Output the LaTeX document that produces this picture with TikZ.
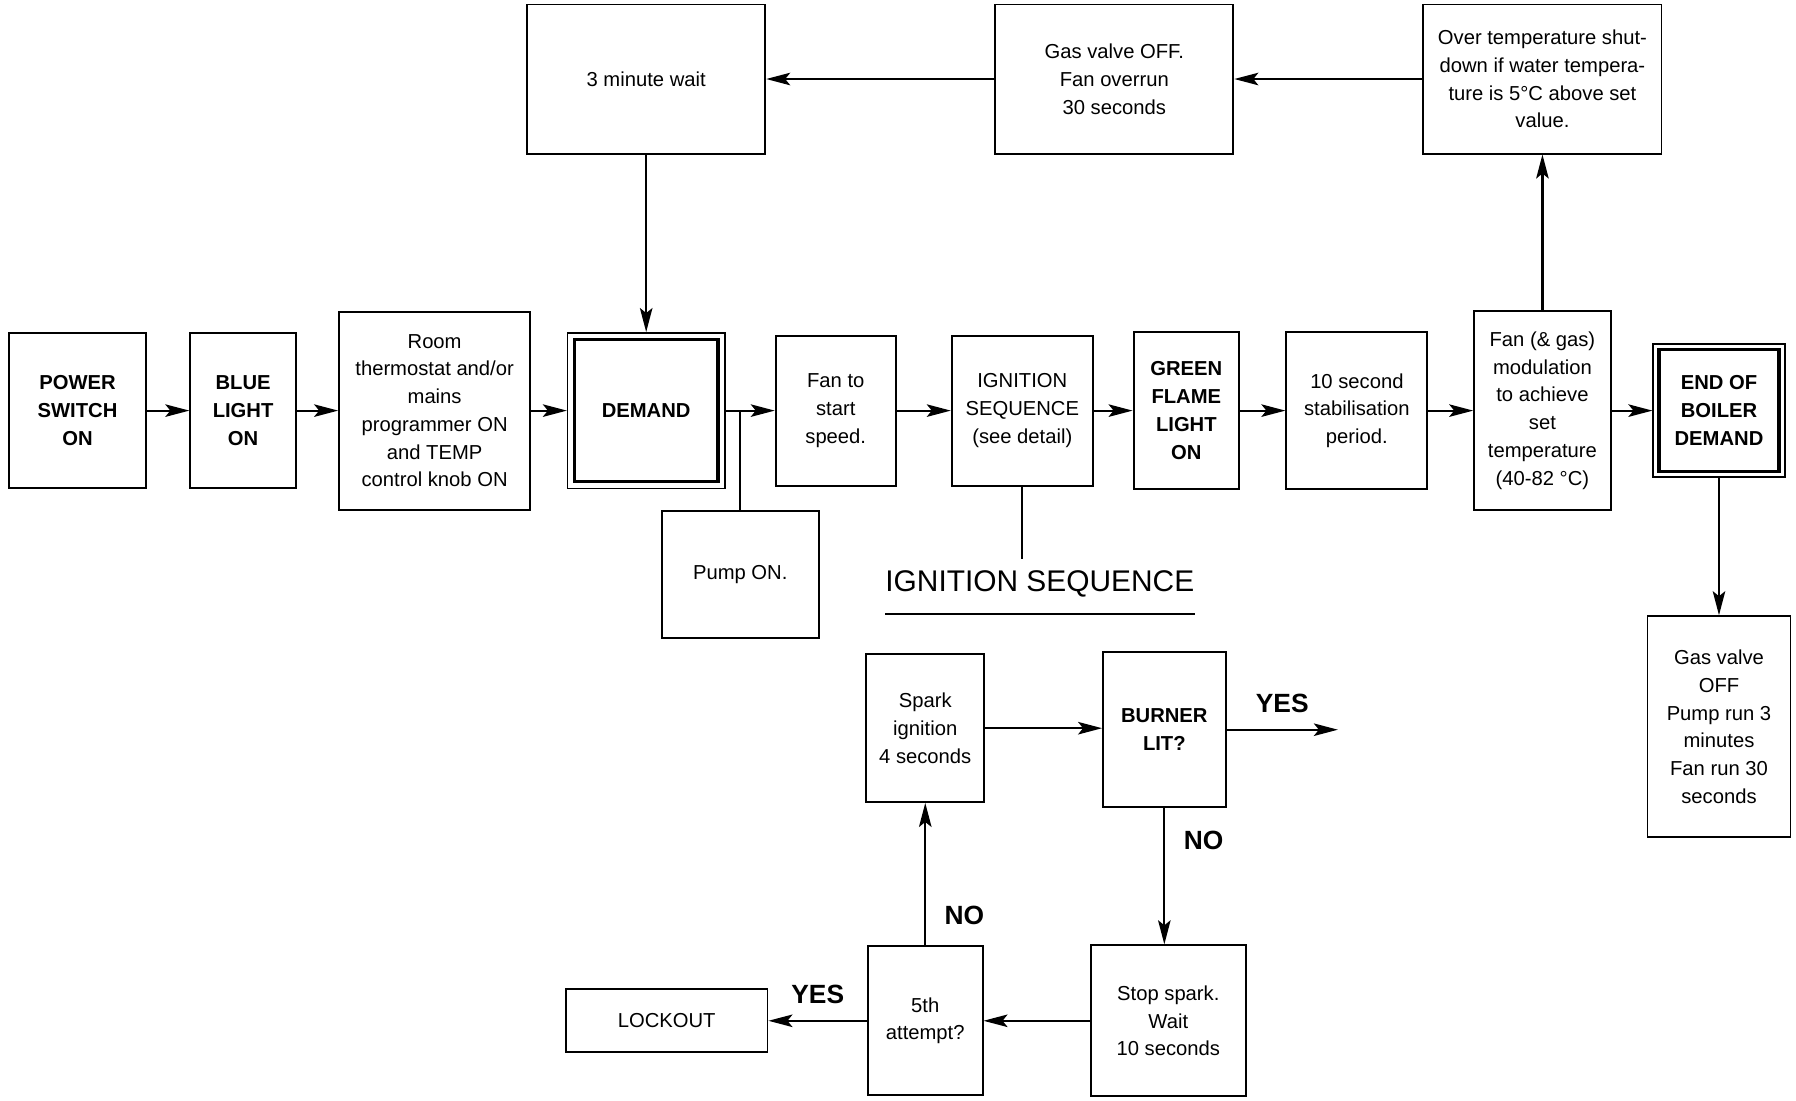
\documentclass[tikz,border=0pt]{standalone}
\usepackage{fontspec}
\setmainfont{Liberation Sans}
\usepackage{tikz}
\usetikzlibrary{arrows.meta,positioning,calc}

\begin{document}
\begin{tikzpicture}[
  box/.style={draw,line width=1.1pt,align=center,inner sep=2pt,
              font=\fontsize{11.5}{15.8}\selectfont},
  bbox/.style={box,font=\fontsize{11.5}{15.8}\selectfont\bfseries},
  arr/.style={-{Stealth[length=4.8mm,width=2.5mm,inset=1mm]},line width=1.2pt},
  link/.style={line width=1pt},
  answer/.style={font=\fontsize{15}{18}\selectfont\bfseries},
]
\useasboundingbox (0,0) rectangle (35.91,22.01);
% main row
\node[bbox,minimum width=2.73cm,minimum height=3.11cm] (power) at (1.55,13.8)
  {POWER\\SWITCH\\ON};
\node[bbox,minimum width=2.11cm,minimum height=3.11cm] (blue) at (4.86,13.8)
  {BLUE\\LIGHT\\ON};
\node[box,minimum width=3.82cm,minimum height=3.96cm] (room) at (8.69,13.8)
  {Room\\thermostat and/or\\mains\\programmer ON\\and TEMP\\control knob ON};
\node[bbox,line width=0.9pt,minimum width=3.14cm,minimum height=3.11cm] (demand) at (12.92,13.8)
  {DEMAND};
\node[box,minimum width=2.40cm,minimum height=3.0cm] (fan) at (16.71,13.8)
  {Fan to\\start\\speed.};
\node[box,minimum width=2.82cm,minimum height=3.0cm] (ign) at (20.44,13.8)
  {IGNITION\\SEQUENCE\\(see detail)};
\node[bbox,minimum width=2.11cm,minimum height=3.14cm] (green) at (23.72,13.8)
  {GREEN\\FLAME\\LIGHT\\ON};
\node[box,minimum width=2.82cm,minimum height=3.14cm] (stab) at (27.13,13.8)
  {10 second\\stabilisation\\period.};
\node[box,minimum width=2.73cm,minimum height=3.99cm] (modul) at (30.84,13.8)
  {Fan (\& gas)\\modulation\\to achieve\\set\\temperature\\(40-82 °C)};
\node[bbox,line width=0.9pt,minimum width=2.63cm,minimum height=2.66cm] (endd) at (34.37,13.8)
  {END OF\\BOILER\\DEMAND};
\node[box,minimum width=3.14cm,minimum height=2.54cm] (pump) at (14.80,10.52)
  {Pump ON.};
\node[box,minimum width=2.86cm,minimum height=4.42cm] (gasoff) at (34.37,7.48)
  {Gas valve\\OFF\\Pump run 3\\minutes\\Fan run 30\\seconds};
% inner frames of the double boxes
\draw[line width=1.8pt] ([shift={(0.15,0.15)}]demand.south west) rectangle ([shift={(-0.15,-0.15)}]demand.north east);
\draw[line width=1.8pt] ([shift={(0.13,0.13)}]endd.south west) rectangle ([shift={(-0.13,-0.13)}]endd.north east);
% top row
\node[box,minimum width=4.76cm,minimum height=2.98cm] (wait) at (12.92,20.43)
  {3 minute wait};
\node[box,minimum width=4.76cm,minimum height=2.98cm] (overrun) at (22.28,20.43)
  {Gas valve OFF.\\Fan overrun\\30 seconds};
\node[box,minimum width=4.76cm,minimum height=2.98cm] (overtemp) at (30.84,20.43)
  {Over temperature shut-\\down if water tempera-\\ture is 5°C above set\\value.};
% ignition detail
\node[inner sep=0pt,font=\fontsize{17}{20}\selectfont] (igntitle) at (20.79,10.33)
  {IGNITION SEQUENCE};
\coordinate (ignlink) at (20.44,10.83);
\node[box,minimum width=2.36cm,minimum height=2.95cm] (spark) at (18.50,7.45)
  {Spark\\ignition\\4 seconds};
\node[bbox,minimum width=2.45cm,minimum height=3.09cm] (burner) at (23.28,7.42)
  {BURNER\\LIT?};
\coordinate (yesend) at (26.75,7.42);
\node[box,minimum width=3.11cm,minimum height=3.02cm] (stop) at (23.36,1.60)
  {Stop spark.\\Wait\\10 seconds};
\node[box,minimum width=2.29cm,minimum height=2.98cm] (fifth) at (18.50,1.60)
  {5th\\attempt?};
\node[box,minimum width=4.03cm,minimum height=1.26cm] (lockout) at (13.33,1.60)
  {LOCKOUT};
% connectors
\draw[arr] (power) -- (blue);
\draw[arr] (blue) -- (room);
\draw[arr] (room) -- (demand);
\draw[arr] (demand) -- (fan);
\draw[arr] (fan) -- (ign);
\draw[arr] (ign) -- (green);
\draw[arr] (green) -- (stab);
\draw[arr] (stab) -- (modul);
\draw[arr] (modul) -- (endd);
\draw[arr] (endd) -- (gasoff);
\draw[arr] (modul) -- (overtemp);
\draw[arr] (overtemp) -- (overrun);
\draw[arr] (overrun) -- (wait);
\draw[arr] (wait) -- (demand);
\draw[link] (pump.north) -- (pump.north |- demand.east);
\draw[link] (ign) -- (ignlink);
\draw[line width=1.2pt] ([yshift=-0.33cm]igntitle.south west) -- ([yshift=-0.33cm]igntitle.south east);
\draw[arr] (spark.east) -- (spark.east -| burner.west);
\draw[arr] (burner) -- (yesend) node[midway,above=0.2cm,answer]{YES};
\draw[arr] (burner.south) -- (burner.south |- stop.north)
  node[pos=0.24,right=0.25cm,answer]{NO};
\draw[arr] (stop) -- (fifth);
\draw[arr] (fifth) -- (lockout) node[midway,above=0.2cm,answer]{YES};
\draw[arr] (fifth) -- (spark) node[pos=0.21,right=0.25cm,answer]{NO};
\end{tikzpicture}
\end{document}
